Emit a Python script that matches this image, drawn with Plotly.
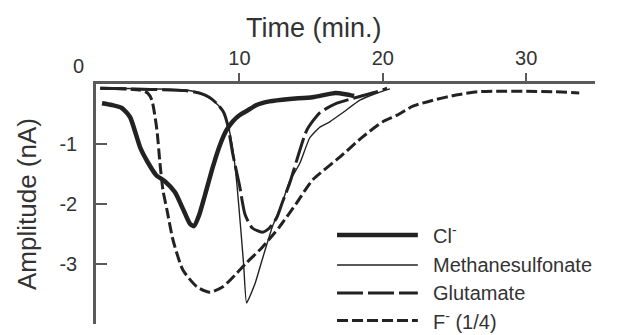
import plotly.graph_objects as go

# Time (min.) and amplitude (nA)
cl_t = [0.42, 1.1, 1.8, 2.37, 2.8, 3.1, 3.6, 4.2, 4.8, 5.5, 6.1, 6.55, 6.83, 7.2, 7.6, 8.15,
        8.64, 9.1, 9.55, 10.0, 10.5, 11.2, 12.1, 13.5, 15.1, 16.7, 17.4, 18.0]
cl_a = [-0.32, -0.35, -0.40, -0.55, -0.85, -1.07, -1.30, -1.52, -1.62, -1.80, -2.10, -2.33,
        -2.37, -2.18, -1.85, -1.38, -1.02, -0.77, -0.62, -0.52, -0.45, -0.35, -0.29, -0.25,
        -0.22, -0.15, -0.17, -0.20]

ms_t = [0.3, 3.8, 6.2, 7.2, 8.15, 8.8, 9.2, 9.55, 9.83, 10.1, 10.3, 10.5, 11.1, 11.6, 12.3,
        13.0, 13.5, 14.2, 14.9, 15.6, 16.3, 17.2, 18.4, 19.6, 20.5]
ms_a = [-0.07, -0.08, -0.10, -0.15, -0.27, -0.43, -0.68, -1.10, -1.68, -2.43, -3.02, -3.65,
        -3.32, -2.92, -2.38, -1.97, -1.62, -1.33, -0.90, -0.72, -0.63, -0.48, -0.27, -0.15, -0.08]

gl_t = [0.3, 3.8, 6.2, 7.2, 7.9, 8.4, 8.9, 9.2, 9.55, 10.0, 10.4, 10.9, 11.6, 12.1, 12.6,
        13.0, 13.5, 14.0, 14.7, 15.6, 16.8, 18.2, 19.6, 20.3]
gl_a = [-0.07, -0.09, -0.11, -0.15, -0.22, -0.32, -0.47, -0.70, -1.18, -1.68, -2.18, -2.40,
        -2.47, -2.40, -2.23, -1.97, -1.66, -1.27, -0.77, -0.48, -0.32, -0.22, -0.13, -0.07]

f_t = [0.3, 3.07, 3.6, 3.9, 4.25, 4.46, 4.67, 4.95, 5.37, 6.06, 7.04, 7.94, 8.85, 9.83, 10.5,
       11.6, 12.8, 14.0, 15.1, 17.0, 18.6, 20.0, 21.0, 22.1, 23.5, 25.2, 26.6, 27.9, 30.0, 32.0, 33.7]
f_a = [-0.07, -0.10, -0.15, -0.27, -0.77, -1.32, -1.77, -2.10, -2.60, -3.10, -3.38, -3.47,
       -3.38, -3.15, -2.98, -2.72, -2.38, -1.98, -1.60, -1.22, -0.88, -0.63, -0.52, -0.37,
       -0.27, -0.18, -0.13, -0.12, -0.12, -0.13, -0.15]

series_names = ["Cl<sup>-</sup>", "Methanesulfonate", "Glutamate", "F<sup>-</sup> (1/4)"]
x_ticks = [10, 20, 30]
y_ticks = [-1, -2, -3]

ink = "#222222"
text_col = "#333333"
axis_col = "#5a5a5a"
font_family = "Liberation Sans, Arial, sans-serif"

styles = [
    dict(color=ink, width=4.5),
    dict(color=ink, width=1.4),
    dict(color=ink, width=3, dash="26px,5px"),
    dict(color=ink, width=3, dash="11px,4px"),
]
smooth = [0.6, 0.4, 0.6, 0.6]
data = [(cl_t, cl_a), (ms_t, ms_a), (gl_t, gl_a), (f_t, f_a)]

fig = go.Figure()
for (xs, ys), name, st, sm in zip(data, series_names, styles, smooth):
    fig.add_trace(go.Scatter(x=xs, y=ys, mode="lines", name=name, showlegend=False,
                             line=dict(shape="spline", smoothing=sm, **st)))

# Legend drawn as key lines + labels at the lower right (paper coordinates)
key_y = [0.371, 0.246, 0.129, 0.015]
shapes = []
annotations = []
for name, st, ky in zip(series_names, styles, key_y):
    shapes.append(dict(type="line", xref="paper", yref="paper", x0=0.483, x1=0.645,
                       y0=ky, y1=ky, line=st))
    annotations.append(dict(text=name, xref="paper", yref="paper", x=0.672, y=ky,
                            xanchor="left", yanchor="middle", showarrow=False,
                            font=dict(size=20, color=text_col)))

annotations += [
    dict(text="Time (min.)", xref="paper", yref="paper", x=0.437, y=1.233,
         showarrow=False, font=dict(size=27, color=text_col),
         xanchor="center", yanchor="middle"),
    dict(text="0", xref="paper", yref="paper", x=-0.036, y=1.075,
         showarrow=False, font=dict(size=20, color=text_col),
         xanchor="center", yanchor="middle"),
]

# The page body adds an 8px offset, so the figure is 8px smaller and margins compensate
fig.update_layout(
    width=611, height=327,
    margin=dict(l=88, r=24, t=76, b=11),
    paper_bgcolor="white", plot_bgcolor="white",
    font=dict(family=font_family, color=text_col),
    showlegend=False,
    xaxis=dict(range=[0, 34.8], side="top", tickvals=x_ticks,
               ticktext=[str(v) for v in x_ticks],
               ticks="outside", ticklen=8, tickwidth=1.5, tickcolor=axis_col,
               showline=True, linecolor=axis_col, linewidth=2.5,
               showgrid=False, zeroline=False, automargin=False,
               tickfont=dict(size=20, color=text_col)),
    yaxis=dict(range=[-4, 0], tickvals=y_ticks,
               ticktext=[str(v) for v in y_ticks],
               ticks="inside", ticklen=11, tickwidth=1.5, tickcolor=axis_col,
               ticklabelstandoff=12,
               showline=True, linecolor=axis_col, linewidth=2.5,
               showgrid=False, zeroline=False, automargin=False,
               tickfont=dict(size=20, color=text_col),
               title=dict(text="Amplitude (nA)", font=dict(size=26, color=text_col),
                          standoff=16)),
    shapes=shapes,
    annotations=annotations,
)

fig.write_html("out.html")
